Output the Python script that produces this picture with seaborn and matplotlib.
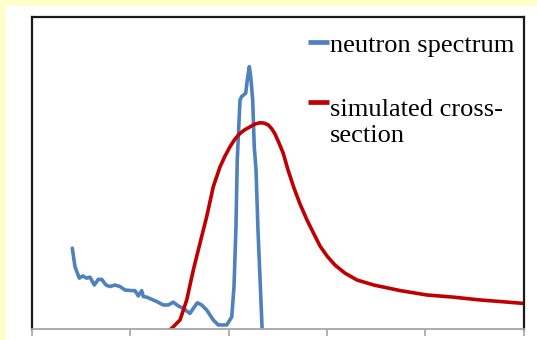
import numpy as np
import pandas as pd
import seaborn as sns
import matplotlib.pyplot as plt
from matplotlib.patches import Rectangle

# neutron spectrum (arbitrary units)
spec_x = [0.410, 0.437, 0.481, 0.516, 0.556, 0.590, 0.634, 0.674, 0.709, 0.753,
          0.793, 0.844, 0.895, 0.946, 1.014, 1.048, 1.081, 1.116, 1.132, 1.167,
          1.218, 1.269, 1.336, 1.387, 1.437, 1.488, 1.539, 1.607, 1.641, 1.682,
          1.726, 1.777, 1.844, 1.895, 1.981, 2.032, 2.055, 2.075, 2.088, 2.116,
          2.133, 2.174, 2.190, 2.211, 2.225, 2.245, 2.261, 2.279, 2.299, 2.345]
spec_y = [0.259, 0.200, 0.163, 0.170, 0.163, 0.166, 0.141, 0.159, 0.159, 0.141,
          0.136, 0.141, 0.136, 0.125, 0.123, 0.123, 0.106, 0.123, 0.104, 0.102,
          0.095, 0.088, 0.077, 0.077, 0.086, 0.074, 0.066, 0.050, 0.066, 0.084,
          0.077, 0.061, 0.029, 0.013, 0.013, 0.039, 0.136, 0.328, 0.542, 0.734,
          0.745, 0.756, 0.798, 0.841, 0.809, 0.734, 0.584, 0.510, 0.317, -0.03]

# simulated cross-section
xs_x = [1.384, 1.421, 1.506, 1.574, 1.641, 1.709, 1.777, 1.844, 1.913, 1.963,
        2.014, 2.065, 2.116, 2.167, 2.218, 2.269, 2.319, 2.360, 2.404, 2.441,
        2.472, 2.513, 2.556, 2.604, 2.665, 2.726, 2.798, 2.869, 2.930, 3.001,
        3.082, 3.184, 3.306, 3.476, 3.747, 4.018, 4.290, 4.560, 4.764, 5.0]
xs_y = [-0.006, 0.002, 0.029, 0.093, 0.189, 0.275, 0.360, 0.456, 0.520, 0.554,
        0.584, 0.609, 0.627, 0.639, 0.648, 0.657, 0.661, 0.660, 0.654, 0.641,
        0.625, 0.596, 0.563, 0.510, 0.452, 0.401, 0.349, 0.304, 0.266, 0.234,
        0.205, 0.179, 0.157, 0.141, 0.123, 0.109, 0.102, 0.093, 0.088, 0.082]

labels = ["neutron spectrum", "simulated cross-\nsection"]
blue = "#4F81BD"
red = "#C00000"

sns.set_theme(style="white")
plt.rcParams['font.family'] = ['Liberation Serif', 'DejaVu Serif']

fig = plt.figure(figsize=(5.37, 3.40), dpi=100, facecolor="white")
# yellow page edge at top and left
fig.patches.append(Rectangle((0, 334 / 340), 1, 6 / 340, transform=fig.transFigure,
                             facecolor="#FFFFCC", edgecolor="none", zorder=0))
fig.patches.append(Rectangle((0, 0), 6 / 537, 1, transform=fig.transFigure,
                             facecolor="#FFFFCC", edgecolor="none", zorder=0))

ax = fig.add_axes([32 / 537, 11 / 340, 491.5 / 537, 312 / 340])

sns.lineplot(x=spec_x, y=spec_y, ax=ax, color=blue, linewidth=2.6,
             sort=False, estimator=None)
sns.lineplot(x=xs_x, y=xs_y, ax=ax, color=red, linewidth=2.6,
             sort=False, estimator=None)

ax.set_xlim(0, 5)
ax.set_ylim(0, 1)
ax.set_xticks(range(6))
ax.set_xticklabels([])
ax.set_yticks([])
ax.tick_params(axis="x", bottom=True, direction="out", length=5, width=1.2,
               color="#A6A6A6")

for side in ["left", "top", "right"]:
    ax.spines[side].set_color("#1a1a1a")
    ax.spines[side].set_linewidth(1.6)
ax.spines["bottom"].set_color("#A6A6A6")
ax.spines["bottom"].set_linewidth(1.3)

# legend, drawn by hand so the key sits on the first line of the label
# (text y = baseline of the last line of each label)
for lab, col, ky, ty in [(labels[0], blue, 0.919, 0.888),
                         (labels[1], red, 0.728, 0.600)]:
    ax.plot([0.561, 0.605], [ky, ky], transform=ax.transAxes, color=col,
            linewidth=3.4, solid_capstyle="butt", clip_on=False)
    ax.text(0.607, ty, lab, transform=ax.transAxes, fontsize=19,
            va="baseline", ha="left", color="black", linespacing=1.2)

plt.savefig("out.png", dpi=100, facecolor=fig.get_facecolor())
